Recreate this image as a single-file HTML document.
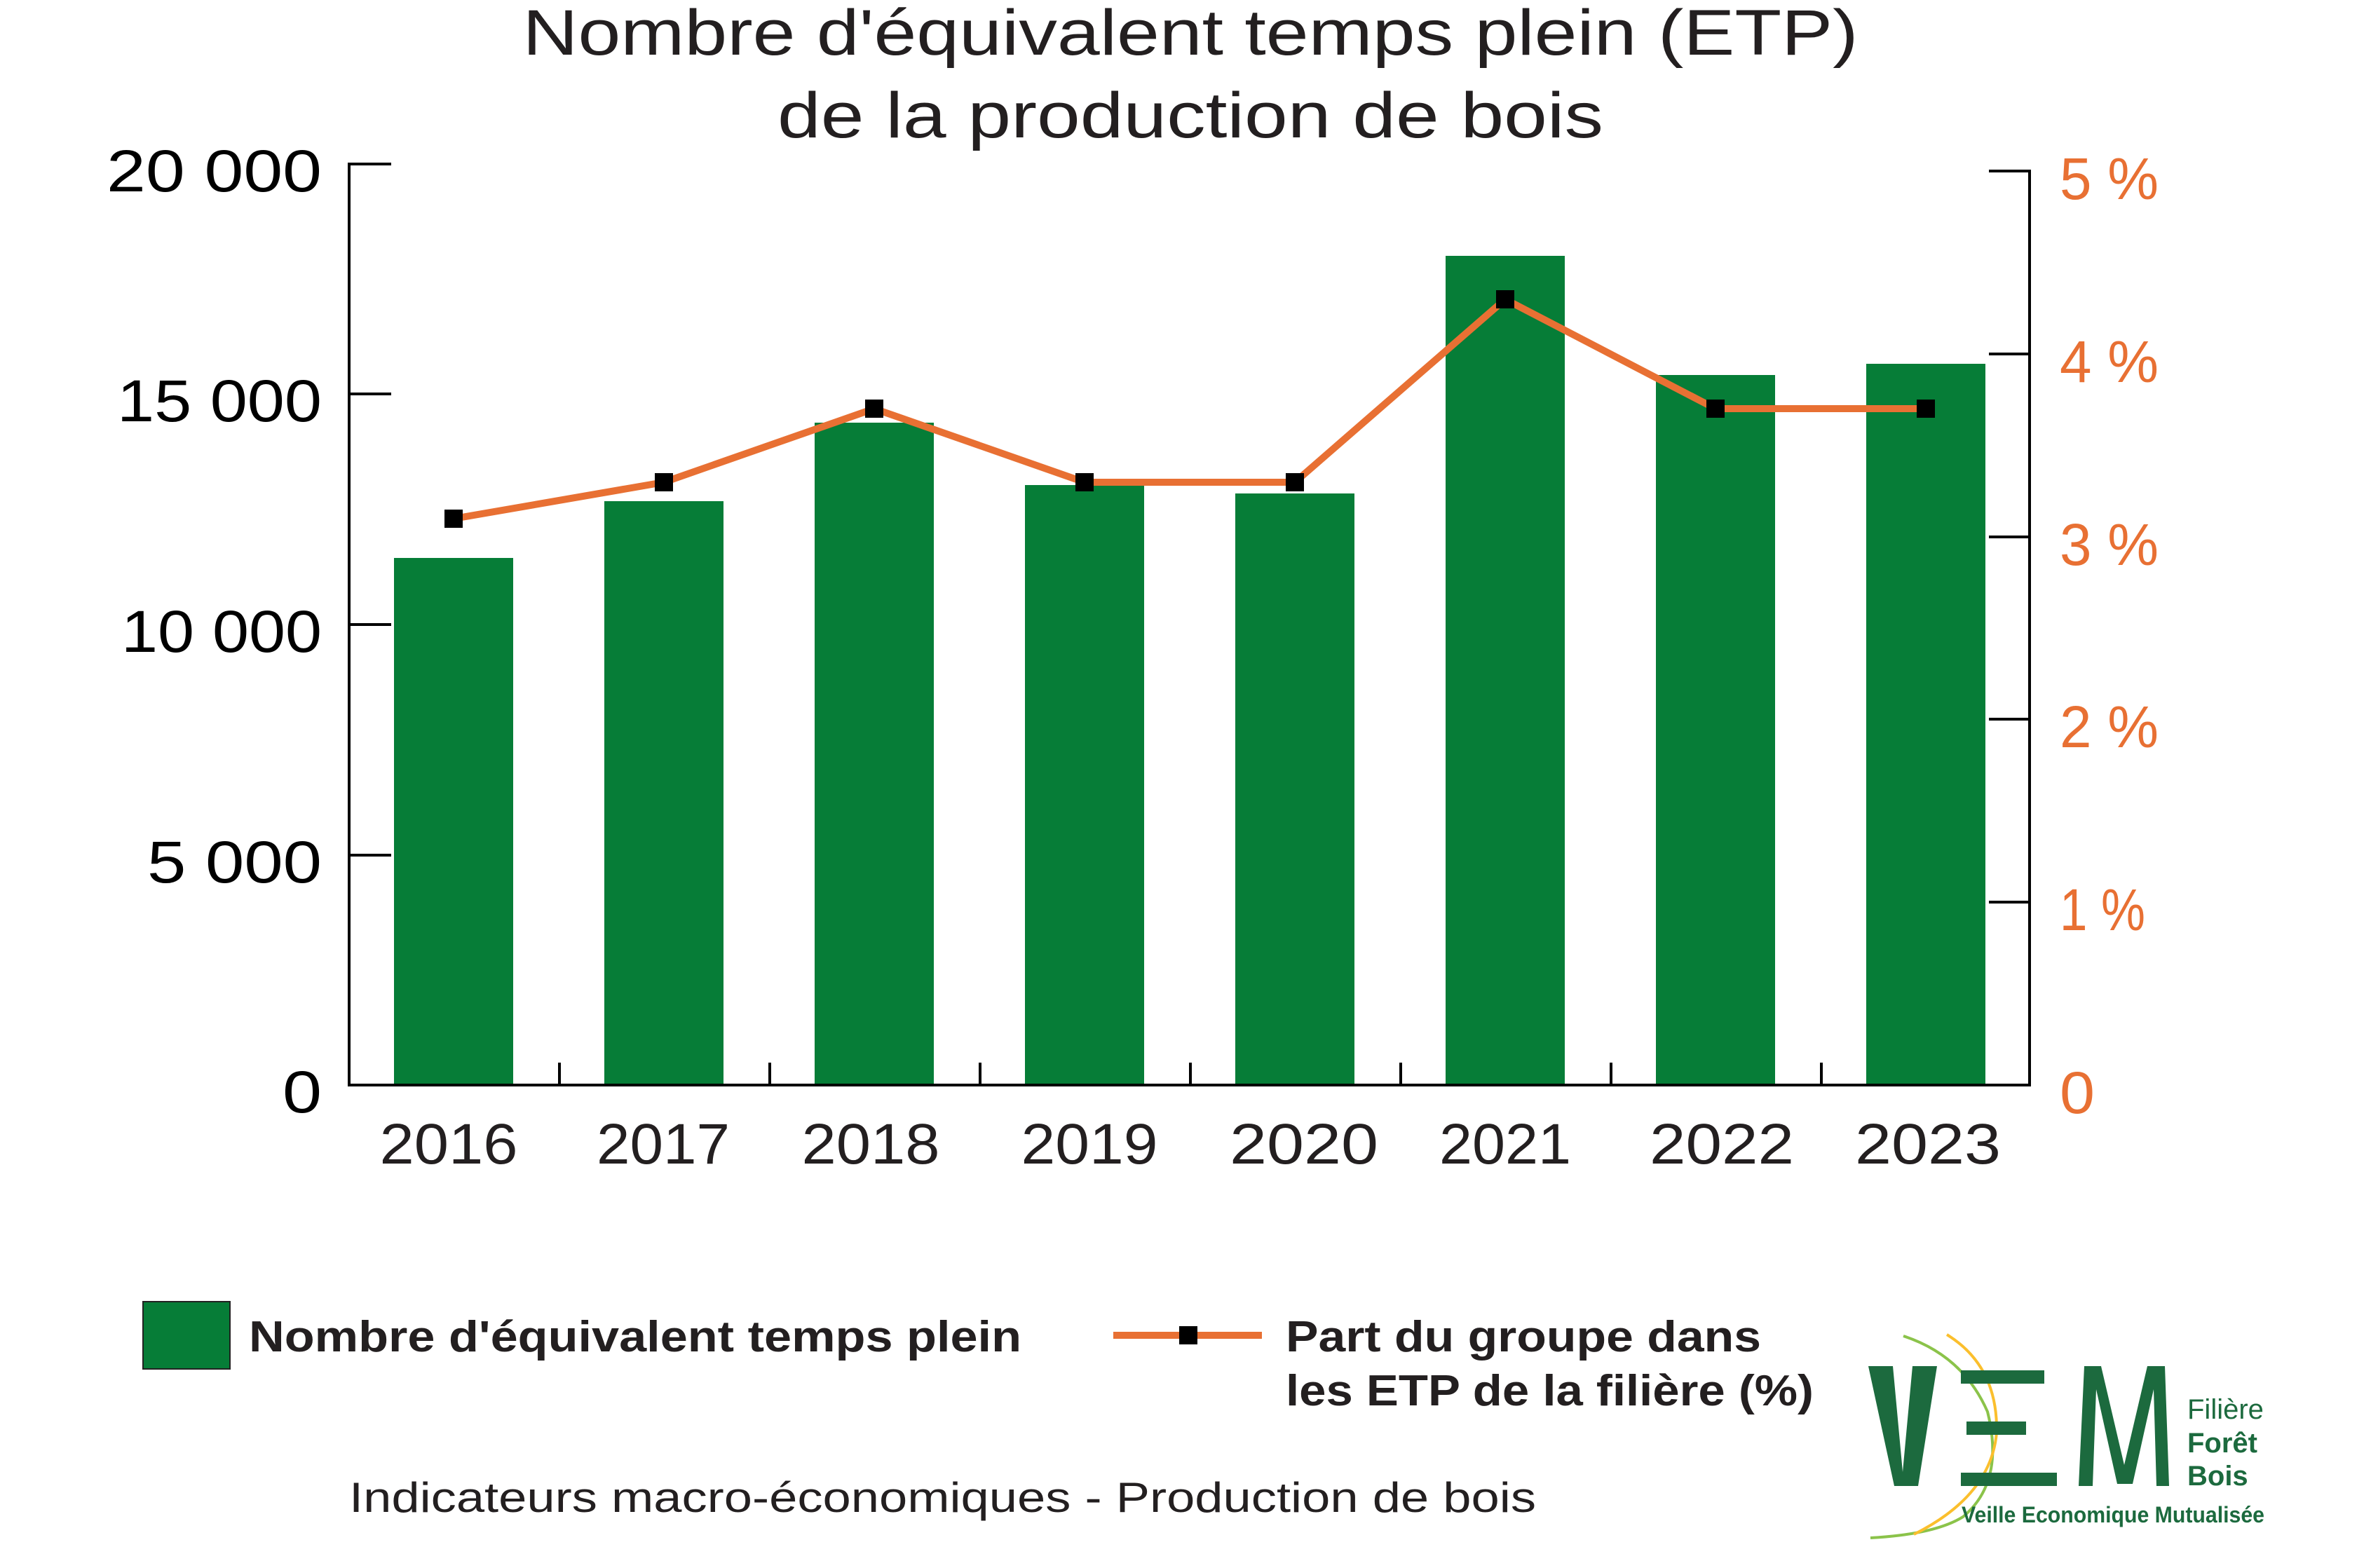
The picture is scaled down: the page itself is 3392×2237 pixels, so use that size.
<!DOCTYPE html>
<html><head><meta charset="utf-8"><style>
html,body{margin:0;padding:0;background:#fff}
svg{display:block}
text{font-family:"Liberation Sans",sans-serif}
</style></head><body>
<svg width="3392" height="2237" viewBox="0 0 3392 2237" xmlns="http://www.w3.org/2000/svg">
<rect width="3392" height="2237" fill="#fff"/>
<g fill="#231f20" font-size="92" text-anchor="middle">
<text x="1698" y="78" textLength="1905" lengthAdjust="spacingAndGlyphs">Nombre d'équivalent temps plein (ETP)</text>
<text x="1698" y="196" textLength="1178" lengthAdjust="spacingAndGlyphs">de la production de bois</text>
</g>
<!-- bars -->
<g fill="#067d37">
<rect x="562" y="796" width="170" height="752"/>
<rect x="862" y="715" width="170" height="833"/>
<rect x="1162" y="603" width="170" height="945"/>
<rect x="1462" y="692" width="170" height="856"/>
<rect x="1762" y="704" width="170" height="844"/>
<rect x="2062" y="365" width="170" height="1183"/>
<rect x="2362" y="535" width="170" height="1013"/>
<rect x="2662" y="519" width="170" height="1029"/>
</g>
<!-- axes -->
<g stroke="#000" stroke-width="4" fill="none">
<line x1="498" y1="232" x2="498" y2="1550"/>
<line x1="2895" y1="242" x2="2895" y2="1550"/>
<line x1="496" y1="1548" x2="2897" y2="1548"/>
<line x1="498" y1="234" x2="558" y2="234"/>
<line x1="498" y1="562" x2="558" y2="562"/>
<line x1="498" y1="891" x2="558" y2="891"/>
<line x1="498" y1="1220" x2="558" y2="1220"/>
<line x1="2837" y1="244" x2="2895" y2="244"/>
<line x1="2837" y1="505" x2="2895" y2="505"/>
<line x1="2837" y1="766" x2="2895" y2="766"/>
<line x1="2837" y1="1026" x2="2895" y2="1026"/>
<line x1="2837" y1="1287" x2="2895" y2="1287"/>
<line x1="798" y1="1516" x2="798" y2="1548"/>
<line x1="1098" y1="1516" x2="1098" y2="1548"/>
<line x1="1398" y1="1516" x2="1398" y2="1548"/>
<line x1="1698" y1="1516" x2="1698" y2="1548"/>
<line x1="1998" y1="1516" x2="1998" y2="1548"/>
<line x1="2298" y1="1516" x2="2298" y2="1548"/>
<line x1="2598" y1="1516" x2="2598" y2="1548"/>
</g>
<!-- left labels -->
<g fill="#000" font-size="84" text-anchor="end">
<text x="459" y="273" textLength="307" lengthAdjust="spacingAndGlyphs">20 000</text>
<text x="459" y="601" textLength="292" lengthAdjust="spacingAndGlyphs">15 000</text>
<text x="459" y="930" textLength="286" lengthAdjust="spacingAndGlyphs">10 000</text>
<text x="459" y="1259" textLength="249" lengthAdjust="spacingAndGlyphs">5 000</text>
<text x="459" y="1587" textLength="56" lengthAdjust="spacingAndGlyphs">0</text>
</g>
<!-- right labels -->
<g fill="#e87033" font-size="84">
<text x="2938" y="284" textLength="141" lengthAdjust="spacingAndGlyphs">5 %</text>
<text x="2938" y="545" textLength="141" lengthAdjust="spacingAndGlyphs">4 %</text>
<text x="2938" y="806" textLength="141" lengthAdjust="spacingAndGlyphs">3 %</text>
<text x="2938" y="1066" textLength="141" lengthAdjust="spacingAndGlyphs">2 %</text>
<text x="2938" y="1327" textLength="122" lengthAdjust="spacingAndGlyphs">1 %</text>
<text x="2938" y="1588" textLength="50" lengthAdjust="spacingAndGlyphs">0</text>
</g>
<!-- years -->
<g fill="#231f20" font-size="82" text-anchor="middle">
<text x="640" y="1660" textLength="197" lengthAdjust="spacingAndGlyphs">2016</text>
<text x="946" y="1660" textLength="190" lengthAdjust="spacingAndGlyphs">2017</text>
<text x="1242" y="1660" textLength="197" lengthAdjust="spacingAndGlyphs">2018</text>
<text x="1554" y="1660" textLength="195" lengthAdjust="spacingAndGlyphs">2019</text>
<text x="1860" y="1660" textLength="212" lengthAdjust="spacingAndGlyphs">2020</text>
<text x="2147" y="1660" textLength="188" lengthAdjust="spacingAndGlyphs">2021</text>
<text x="2456" y="1660" textLength="206" lengthAdjust="spacingAndGlyphs">2022</text>
<text x="2750" y="1660" textLength="208" lengthAdjust="spacingAndGlyphs">2023</text>
</g>
<!-- line -->
<polyline points="647,740 947,688 1247,583 1547,688 1847,688 2147,427 2447,583 2747,583" fill="none" stroke="#e87033" stroke-width="10" stroke-linejoin="round"/>
<g fill="#000">
<rect x="634" y="727" width="26" height="26"/>
<rect x="934" y="675" width="26" height="26"/>
<rect x="1234" y="570" width="26" height="26"/>
<rect x="1534" y="675" width="26" height="26"/>
<rect x="1834" y="675" width="26" height="26"/>
<rect x="2134" y="414" width="26" height="26"/>
<rect x="2434" y="570" width="26" height="26"/>
<rect x="2734" y="570" width="26" height="26"/>
</g>
<!-- legend -->
<rect x="204" y="1857" width="124" height="96" fill="#067d37" stroke="#222" stroke-width="2"/>
<text x="355" y="1928" font-size="62" font-weight="bold" fill="#231f20" textLength="1102" lengthAdjust="spacingAndGlyphs">Nombre d'équivalent temps plein</text>
<line x1="1588" y1="1905" x2="1800" y2="1905" stroke="#e87033" stroke-width="10"/>
<rect x="1682" y="1892" width="26" height="26" fill="#000"/>
<text x="1834" y="1928" font-size="62" font-weight="bold" fill="#231f20" textLength="678" lengthAdjust="spacingAndGlyphs">Part du groupe dans</text>
<text x="1834" y="2005" font-size="62" font-weight="bold" fill="#231f20" textLength="753" lengthAdjust="spacingAndGlyphs">les ETP de la filière  (%)</text>
<text x="498" y="2157" font-size="60" fill="#231f20" textLength="1693" lengthAdjust="spacingAndGlyphs">Indicateurs macro-économiques - Production de bois</text>
<!-- logo -->
<g>
<path d="M2715,1906 Q2800,1934 2835,2014 Q2860,2114 2800,2164 Q2760,2189 2668,2194" fill="none" stroke="#8bc34a" stroke-width="4"/>
<path d="M2777,1904 Q2850,1949 2848,2044 Q2840,2134 2730,2189" fill="none" stroke="#fbbf2d" stroke-width="4"/>
<polygon points="2665,1949 2700,1949 2714,2100 2728,1949 2763,1949 2736,2120 2702,2120" fill="#1c6a3e"/>
<rect x="2797" y="1955" width="119" height="19" fill="#1c6a3e"/>
<rect x="2805" y="2028" width="85" height="19" fill="#1c6a3e"/>
<rect x="2797" y="2101" width="137" height="19" fill="#1c6a3e"/>
<polygon points="2973,1949 2997,1949 3030,2090 3063,1949 3088,1949 3094,2120 3076,2120 3072,1982 3042,2117 3020,2117 2990,1982 2985,2120 2965,2120" fill="#1c6a3e"/>
<g fill="#1c6a3e" font-family="'Liberation Sans Narrow','Liberation Sans',sans-serif" font-weight="bold">
<text x="3120" y="2024" font-size="40" font-weight="normal">Filière</text>
<text x="3120" y="2072" font-size="40">Forêt</text>
<text x="3120" y="2119" font-size="40">Bois</text>
<text x="2798" y="2172" font-size="32" textLength="432" lengthAdjust="spacingAndGlyphs">Veille Economique Mutualisée</text>
</g>
</g>
</svg>
</body></html>
